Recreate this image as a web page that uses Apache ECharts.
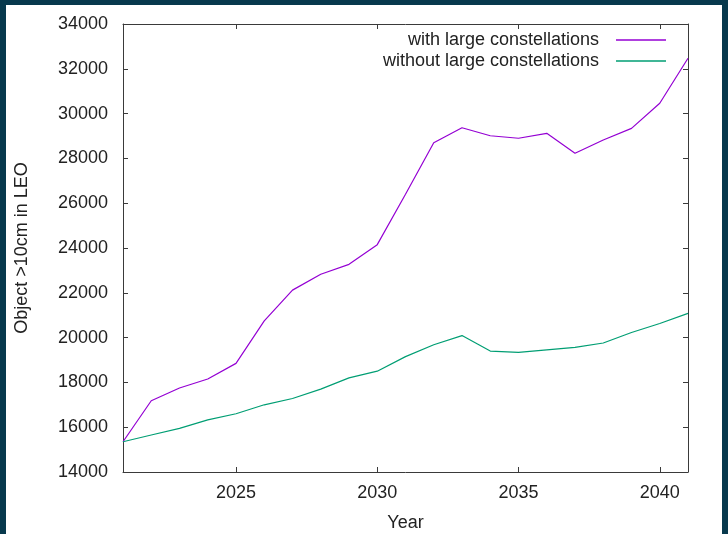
<!DOCTYPE html>
<html>
<head>
<meta charset="utf-8">
<script src="https://cdn.jsdelivr.net/npm/echarts@6/dist/echarts.min.js"></script>
<style>
  html, body { margin: 0; padding: 0; background: #07394d; }
  #frame { position: absolute; left: 6px; top: 5px; width: 716px; height: 529px; background: #ffffff; }
  #chart { position: absolute; left: -6px; top: -5px; width: 728px; height: 534px; }
</style>
</head>
<body>
<div id="frame"><div id="chart"></div></div>
<script>
// Tracked objects larger than 10 cm in low Earth orbit, yearly projection
const years = [2021, 2022, 2023, 2024, 2025, 2026, 2027, 2028, 2029, 2030, 2031,
               2032, 2033, 2034, 2035, 2036, 2037, 2038, 2039, 2040, 2041];
const withLarge = [15350, 17180, 17750, 18150, 18850, 20750, 22120, 22830, 23270, 24150, 26400,
                   28700, 29370, 29010, 28900, 29120, 28230, 28820, 29340, 30460, 32470];
const withoutLarge = [15350, 15650, 15950, 16330, 16600, 17000, 17280, 17700, 18200, 18500, 19150,
                      19680, 20090, 19400, 19340, 19450, 19560, 19760, 20230, 20630, 21080];
const xTicks = [2025, 2030, 2035, 2040];
const seriesNames = ['with large constellations', 'without large constellations'];

const FONT = '"Liberation Sans", Arial, sans-serif';
const AXIS = '#3a3a3a';
const TEXT = '#222222';

const pairs = vals => years.map((y, i) => [y, vals[i]]);
const plain = v => String(v);

const chart = echarts.init(document.getElementById('chart'), null, { renderer: 'canvas' });

const xBase = {
  type: 'value', min: 2021, max: 2041,
  splitLine: { show: false },
  axisLine: { show: true, lineStyle: { color: AXIS, width: 1 } },
  axisTick: { show: true, inside: true, length: 5, lineStyle: { color: AXIS }, customValues: xTicks },
};
const yBase = {
  type: 'value', min: 14000, max: 34000, interval: 2000,
  splitLine: { show: false },
  axisLine: { show: true, lineStyle: { color: AXIS, width: 1 } },
  axisTick: { show: true, inside: true, length: 5, lineStyle: { color: AXIS } },
};

chart.setOption({
  animation: false,
  backgroundColor: 'transparent',
  textStyle: { fontFamily: FONT },
  grid: { left: 123, right: 40, top: 24, bottom: 62, containLabel: false, outerBoundsMode: 'none' },
  legend: {
    orient: 'vertical', align: 'right', right: 62, top: 31, padding: 0,
    icon: 'rect', itemWidth: 50, itemHeight: 1.3, itemGap: 3,
    data: seriesNames,
    textStyle: { fontFamily: FONT, fontSize: 18, color: TEXT, lineHeight: 18, padding: [0, 12, 0, 0] },
  },
  xAxis: [
    Object.assign({}, xBase, {
      position: 'bottom',
      name: 'Year', nameLocation: 'middle', nameGap: 42,
      nameTextStyle: { fontFamily: FONT, fontSize: 18, color: TEXT },
      axisLabel: { show: true, customValues: xTicks, formatter: plain,
                   fontFamily: FONT, fontSize: 18, color: TEXT, margin: 12 },
    }),
    Object.assign({}, xBase, { position: 'top', axisLabel: { show: false } }),
  ],
  yAxis: [
    Object.assign({}, yBase, {
      position: 'left',
      name: 'Object >10cm in LEO', nameLocation: 'middle', nameGap: 92, nameRotate: 90,
      nameTextStyle: { fontFamily: FONT, fontSize: 18, color: TEXT },
      axisLabel: { show: true, formatter: plain, fontFamily: FONT, fontSize: 18, color: TEXT, margin: 15 },
    }),
    Object.assign({}, yBase, { position: 'right', axisLabel: { show: false } }),
  ],
  series: [
    {
      name: seriesNames[0], type: 'line', data: pairs(withLarge),
      symbol: 'none', color: '#9400d3', lineStyle: { width: 1.2, color: '#9400d3' },
    },
    {
      name: seriesNames[1], type: 'line', data: pairs(withoutLarge),
      symbol: 'none', color: '#009e73', lineStyle: { width: 1.2, color: '#009e73' },
    },
  ],
});
</script>
</body>
</html>
